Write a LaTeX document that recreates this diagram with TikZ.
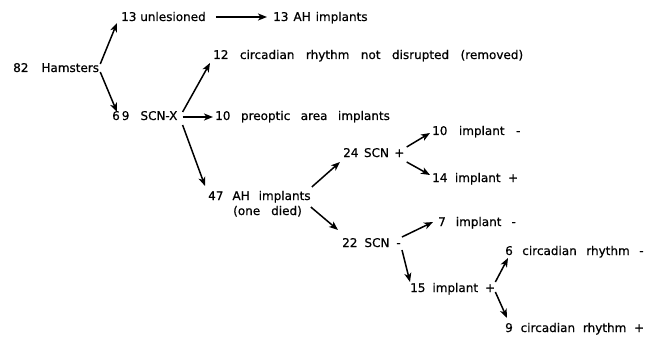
\documentclass[tikz,border=0pt]{standalone}
\usepackage{fontspec}
\setmainfont{DejaVu Sans}[UprightFeatures={FakeBold=0.6}]
\usetikzlibrary{arrows.meta}
\tikzset{
  lbl/.style={font=\fontsize{12}{14}\selectfont, inner sep=0pt, anchor=base west},
  ws/.style={execute at begin node={\spaceskip=#1pt\relax}},
  arr/.style={line width=1.5pt, -{Stealth[length=9pt,width=7pt,inset=2.5pt]}}
}
\begin{document}
\begin{tikzpicture}[x=1pt,y=-1pt]
\useasboundingbox (0,0) rectangle (659,337);
\node[lbl,ws=13] (H) at (13,72) {82 Hamsters};
\node[lbl] (U) at (121,21) {13 unlesioned};
\node[lbl,ws=5] (AH) at (273,21) {13 AH implants};
\node[lbl,ws=11.5] (C12) at (213,59) {12 circadian rhythm not disrupted (removed)};
\node[lbl,ws=11] (S) at (112,120) {6\kern2pt9 SCN-X};
\node[lbl,ws=10.5] (P) at (215,120) {10 preoptic area implants};
\node[lbl,ws=9] (A47) at (208,200) {47 AH implants};
\node[lbl,ws=11] (D) at (233,215) {(one died)};
\node[lbl,ws=5.5] (S24) at (343,157) {24 SCN +};
\node[lbl,ws=11.5] (I10) at (432,135) {10 implant -};
\node[lbl,ws=7.5] (I14) at (432,182) {14 implant +};
\node[lbl,ws=7] (S22) at (342,247) {22 SCN -};
\node[lbl,ws=10] (I7) at (438,226) {7 implant -};
\node[lbl,ws=7] (I15) at (410,292) {15 implant +};
\node[lbl,ws=9.5] (C6) at (505,255) {6 circadian rhythm -};
\node[lbl,ws=7.8] (C9) at (505,332) {9 circadian rhythm +};

\draw[arr] ([shift={(1,-8)}]H.base east) -- ([shift={(-4,2)}]U.base west);
\draw[arr] ([shift={(1,0)}]H.base east) -- ([shift={(5,-8)}]S.base west);
\draw[arr] ([shift={(5,-8)}]S.base east) -- ([shift={(-3,4)}]C12.base west);
\draw[arr] ([shift={(5,-3)}]S.base east) -- ([shift={(-2,-3)}]P.base west);
\draw[arr] ([shift={(5,5)}]S.base east) -- ([shift={(-3,-14)}]A47.base west);
\draw[arr] ([shift={(10,-4)}]U.base east) -- ([shift={(-6,-4)}]AH.base west);
\draw[arr] ([shift={(1,-13)}]A47.base east) -- ([shift={(-3,5)}]S24.base west);
\draw[arr] ([shift={(0,7)}]A47.base east) -- ([shift={(-4,-17)}]S22.base west);
\draw[arr] ([shift={(2,-10)}]S24.base east) -- ([shift={(-2,-2)}]I10.base west);
\draw[arr] ([shift={(2,5)}]S24.base east) -- ([shift={(-2,-7)}]I14.base west);
\draw[arr] ([shift={(1,-10)}]S22.base east) -- ([shift={(-5,-4)}]I7.base west);
\draw[arr] ([shift={(1,3)}]S22.base east) -- ([shift={(0,-10)}]I15.base west);
\draw[arr] ([shift={(0,-10)}]I15.base east) -- ([shift={(3,3)}]C6.base west);
\draw[arr] ([shift={(0,0)}]I15.base east) -- ([shift={(2,-14)}]C9.base west);
\end{tikzpicture}
\end{document}
